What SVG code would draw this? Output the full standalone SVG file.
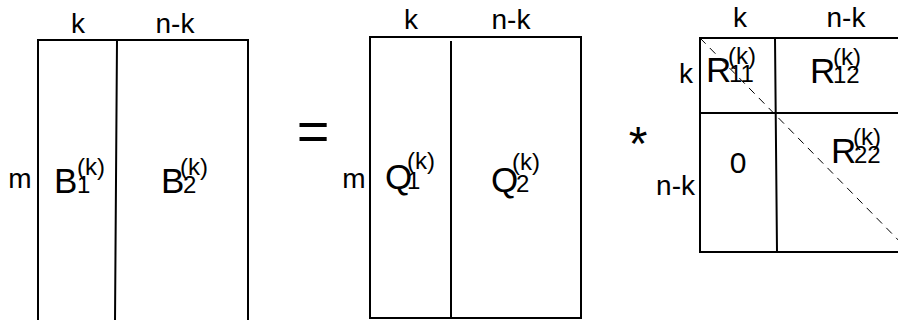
<svg xmlns="http://www.w3.org/2000/svg" width="898" height="320" viewBox="0 0 898 320">
<style>
  text { font-family: "Liberation Sans", Arial, sans-serif; fill: #000; }
  .lbl { font-size: 28px; }
  .big { font-size: 35px; }
  .sm { font-size: 24px; }
  .ln { stroke: #000; stroke-width: 2; fill: none; }
  .dash { stroke: #000; stroke-width: 1; stroke-dasharray: 8 6; fill: none; }
</style>
<rect width="898" height="320" fill="#fff"/>

<g id="matrixB">
  <path class="ln" d="M38 322 V40 H248 V322 M117 40 L115 322"/>
  <text class="lbl" x="78" y="33" text-anchor="middle">k</text>
  <text class="lbl" x="175" y="33" text-anchor="middle">n-k</text>
  <text class="lbl" x="20" y="188" text-anchor="middle">m</text>
  <text class="big" x="54" y="193">B</text>
  <text class="sm" x="77" y="193">1</text>
  <text class="sm" x="77" y="175">(k)</text>
  <text class="big" x="161" y="193">B</text>
  <text class="sm" x="183" y="193">2</text>
  <text class="sm" x="180" y="175">(k)</text>
</g>

<g id="equals">
  <text x="313" y="150" text-anchor="middle" style="font-size:56px">=</text>
</g>

<g id="matrixQ">
  <path class="ln" d="M370 37 H581 V318 H370 Z M451 41 V318"/>
  <text class="lbl" x="411" y="29" text-anchor="middle">k</text>
  <text class="lbl" x="511" y="29" text-anchor="middle">n-k</text>
  <text class="lbl" x="354" y="188" text-anchor="middle">m</text>
  <text class="big" x="385" y="189">Q</text>
  <text class="sm" x="407" y="189">1</text>
  <text class="sm" x="407" y="169">(k)</text>
  <text class="big" x="491" y="192">Q</text>
  <text class="sm" x="516" y="192">2</text>
  <text class="sm" x="512" y="170">(k)</text>
</g>

<g id="times">
  <text x="638" y="160" text-anchor="middle" style="font-size:48px">*</text>
</g>

<g id="matrixR">
  <path class="ln" d="M900 38 H700 V252 H900 M700 113 H900 M775 38 L777 252"/>
  <path class="dash" d="M700 38 L910 252"/>
  <text class="lbl" x="740" y="27" text-anchor="middle">k</text>
  <text class="lbl" x="846" y="27" text-anchor="middle">n-k</text>
  <text class="lbl" x="693" y="83" text-anchor="end">k</text>
  <text class="lbl" x="695" y="195" text-anchor="end">n-k</text>
  <text class="big" x="706" y="82">R</text>
  <text class="sm" x="729" y="82">11</text>
  <text class="sm" x="728" y="64">(k)</text>
  <text class="big" x="810" y="83">R</text>
  <text class="sm" x="833" y="83">12</text>
  <text class="sm" x="833" y="65">(k)</text>
  <text class="big" x="831" y="163">R</text>
  <text class="sm" x="854" y="163">22</text>
  <text class="sm" x="853" y="145">(k)</text>
  <text x="738" y="173" text-anchor="middle" style="font-size:30px">0</text>
</g>
</svg>
